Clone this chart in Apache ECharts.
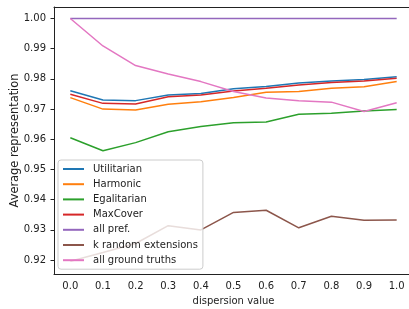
<!DOCTYPE html>
<html>
<head>
<meta charset="utf-8">
<script src="https://cdn.jsdelivr.net/npm/echarts@6/dist/echarts.min.js"></script>
<style>
  html, body { margin: 0; padding: 0; background: #fff; }
  #chart { width: 409px; height: 309px; }
</style>
</head>
<body>
<div id="chart"></div>
<script>
const dispersion = ["0.0", "0.1", "0.2", "0.3", "0.4", "0.5", "0.6", "0.7", "0.8", "0.9", "1.0"];
const yTicks = [0.92, 0.93, 0.94, 0.95, 0.96, 0.97, 0.98, 0.99, 1.00];

const utilitarian = [0.9761, 0.9730, 0.9728, 0.9747, 0.9752, 0.9767, 0.9775, 0.9786, 0.9793, 0.9798, 0.9807];
const harmonic    = [0.9738, 0.9700, 0.9697, 0.9716, 0.9724, 0.9738, 0.9756, 0.9758, 0.9769, 0.9774, 0.9791];
const egalitarian = [0.9605, 0.9562, 0.9589, 0.9625, 0.9642, 0.9655, 0.9657, 0.9683, 0.9686, 0.9694, 0.9699];
const maxCover    = [0.9749, 0.9719, 0.9717, 0.9741, 0.9747, 0.9760, 0.9769, 0.9780, 0.9788, 0.9793, 0.9802];
const allPref     = [1, 1, 1, 1, 1, 1, 1, 1, 1, 1, 1];
const kRandom     = [0.9196, 0.9225, 0.9255, 0.9314, 0.9300, 0.9358, 0.9365, 0.9307, 0.9345, 0.9332, 0.9333];
const groundTruth = [1.0, 0.9909, 0.9844, 0.9816, 0.9791, 0.9758, 0.9737, 0.9728, 0.9723, 0.9692, 0.9721];

const names = ["Utilitarian", "Harmonic", "Egalitarian", "MaxCover", "all pref.", "k random extensions", "all ground truths"];
const values = [utilitarian, harmonic, egalitarian, maxCover, allPref, kRandom, groundTruth];
const colors = ["#1f77b4", "#ff7f0e", "#2ca02c", "#d62728", "#9467bd", "#8c564b", "#e377c2"];

const font = "DejaVu Sans";
const chart = echarts.init(document.getElementById("chart"));

chart.setOption({
  animation: false,
  color: colors,
  grid: {
    left: 54, right: -4, top: 7, bottom: 35,
    outerBoundsMode: "none"
  },
  legend: {
    orient: "vertical",
    left: 58, top: 160,
    itemWidth: 21, itemHeight: 10, itemGap: 5.2,
    padding: [4, 5, 4, 4],
    backgroundColor: "rgba(255,255,255,0.8)",
    borderColor: "#ccc", borderWidth: 1, borderRadius: 3,
    itemStyle: { opacity: 0 },
    textStyle: { fontFamily: font, fontSize: 10, color: "#222", padding: [0, 0, 0, 4] },
    data: names
  },
  xAxis: [{
    type: "category",
    data: dispersion,
    boundaryGap: true,
    name: "dispersion value",
    nameLocation: "middle",
    nameGap: 22,
    nameTextStyle: { fontFamily: font, fontSize: 10, color: "#222" },
    axisLine: { lineStyle: { color: "#222", width: 1 } },
    axisTick: { alignWithLabel: true, length: 3.5, lineStyle: { color: "#222" } },
    axisLabel: { fontFamily: font, fontSize: 10, color: "#222", margin: 7 },
    splitLine: { show: false }
  }, {
    // top spine only
    type: "category",
    data: dispersion,
    position: "top",
    axisLine: { lineStyle: { color: "#222", width: 1 } },
    axisTick: { show: false },
    axisLabel: { show: false },
    splitLine: { show: false }
  }],
  yAxis: {
    type: "value",
    min: 0.9154, max: 1.0038,
    name: "Average representation",
    nameLocation: "middle",
    nameGap: 33,
    nameMoveOverlap: false,
    nameTextStyle: { fontFamily: font, fontSize: 11.4, color: "#222" },
    axisLine: { show: true, lineStyle: { color: "#222", width: 1 } },
    axisTick: { show: true, length: 3.5, lineStyle: { color: "#222" }, customValues: yTicks },
    axisLabel: {
      fontFamily: font, fontSize: 10, color: "#222", margin: 8,
      customValues: yTicks,
      formatter: v => v.toFixed(2)
    },
    splitLine: { show: false }
  },
  series: names.map((n, i) => ({
    name: n,
    type: "line",
    data: values[i],
    showSymbol: false,
    symbol: "none",
    lineStyle: { width: 1.5 }
  }))
});
</script>
</body>
</html>
